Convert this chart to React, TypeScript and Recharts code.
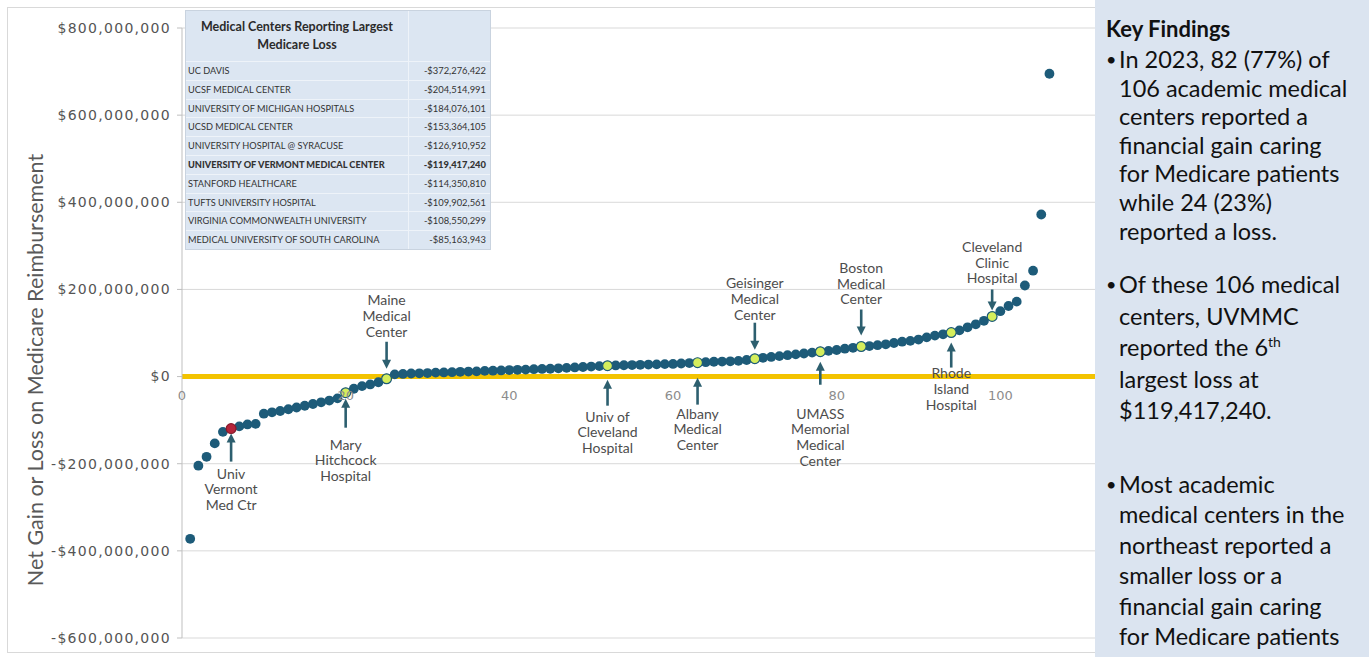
import React from "react";
import { ScatterChart, Scatter, XAxis, YAxis, CartesianGrid, ReferenceLine } from "recharts";

// net gain / loss per academic medical center, in $ millions, sorted ascending (rank 1..106)
const netGain = [
  -372.28, -204.51, -184.08, -153.36, -126.91, -119.42, -114.35, -109.9, -108.55, -85.16,
  -82, -79, -75, -71, -67, -63, -59, -55, -50, -37,
  -28, -22, -18, -13, -5, 5, 6, 7, 7.5, 8,
  9, 9.5, 10, 11, 11.5, 12, 13, 13.5, 14, 15,
  15.5, 16, 17, 17.5, 18, 19, 20, 21, 22, 23,
  24, 25, 25.5, 26, 26.5, 27, 27.5, 28, 28.5, 29,
  30, 31, 32, 33, 34, 34.5, 35, 36, 38, 41,
  43, 45, 47, 49, 51, 53, 55, 57, 59, 61,
  64, 66, 69, 70, 72, 74, 77, 80, 82, 85,
  90, 94, 97, 101, 106, 113, 120, 128, 138, 150,
  162, 172, 209, 243, 372, 695,
];

const yTicks = [-600, -400, -200, 0, 200, 400, 600, 800];
// 120 sits under the findings panel, so only the visible ticks are labelled
const xTicks = [0, 20, 40, 60, 80, 100];

const lossCenters = [
  "UC DAVIS",
  "UCSF MEDICAL CENTER",
  "UNIVERSITY OF MICHIGAN HOSPITALS",
  "UCSD MEDICAL CENTER",
  "UNIVERSITY HOSPITAL @ SYRACUSE",
  "UNIVERSITY OF VERMONT MEDICAL CENTER",
  "STANFORD HEALTHCARE",
  "TUFTS UNIVERSITY HOSPITAL",
  "VIRGINIA COMMONWEALTH UNIVERSITY",
  "MEDICAL UNIVERSITY OF SOUTH CAROLINA",
];
const lossAmounts = [
  "-$372,276,422",
  "-$204,514,991",
  "-$184,076,101",
  "-$153,364,105",
  "-$126,910,952",
  "-$119,417,240",
  "-$114,350,810",
  "-$109,902,561",
  "-$108,550,299",
  "-$85,163,943",
];

// highlighted centers: rank and label lines
const callouts = [
  { rank: 6, lines: ["Univ", "Vermont", "Med Ctr"] },
  { rank: 20, lines: ["Mary", "Hitchcock", "Hospital"] },
  { rank: 25, lines: ["Maine", "Medical", "Center"] },
  { rank: 52, lines: ["Univ of", "Cleveland", "Hospital"] },
  { rank: 63, lines: ["Albany", "Medical", "Center"] },
  { rank: 70, lines: ["Geisinger", "Medical", "Center"] },
  { rank: 78, lines: ["UMASS", "Memorial", "Medical", "Center"] },
  { rank: 83, lines: ["Boston", "Medical", "Center"] },
  { rank: 94, lines: ["Rhode", "Island", "Hospital"] },
  { rank: 99, lines: ["Cleveland", "Clinic", "Hospital"] },
];

const findings = [
  ["In 2023, 82 (77%) of", "106 academic medical", "centers reported a", "financial gain caring", "for Medicare patients", "while 24 (23%)", "reported a loss."],
  ["Of these 106 medical", "centers, UVMMC", "reported the 6|th", "largest loss at", "$119,417,240."],
  ["Most academic", "medical centers in the", "northeast reported a", "smaller loss or a", "financial gain caring", "for Medicare patients"],
];

// callout styling: arrow tip/tail and first label line offsets from the point (px)
const calloutStyle: Record<number, { tip: number; tail: number; label: number; red?: boolean }> = {
  6: { tip: 5, tail: 33, label: 45, red: true },
  20: { tip: 6, tail: 35, label: 52 },
  25: { tip: -10, tail: -37, label: -47 },
  52: { tip: 14, tail: 40, label: 51 },
  63: { tip: 15, tail: 42, label: 51 },
  70: { tip: -9, tail: -36, label: -44 },
  78: { tip: 10, tail: 33, label: 62 },
  83: { tip: -11, tail: -37, label: -47 },
  94: { tip: 10, tail: 35, label: 41 },
  99: { tip: -6, tail: -27, label: -38 },
};

// findings panel layout: centre of first line and line step for each bullet
const bulletLayout = [
  { top: 59, step: 28.6 },
  { top: 284, step: 31.5 },
  { top: 484, step: 30.4 },
];

const points = netGain.map((v, i) => ({ rank: i + 1, value: v }));
const calloutPoints = callouts.map((c) => ({ ...c, value: netGain[c.rank - 1] }));

const W = 1176;
const H = 657;
const X_AXIS_H = 19;
const M = { top: 28, right: 12, bottom: 0, left: 0 };
const Y_AXIS_W = 182;
const plotH = H - M.top - M.bottom - X_AXIS_H;
const zeroY = M.top + (800 / 1400) * plotH;

const DOT = "#1d5b79";
const HILITE = "#d5ee5c";
const ARROW = "#2d5f6f";
const LABEL = "#4d4d4d";

const fmtMoney = (v: number) => {
  const s = "$" + (Math.abs(v) * 1e6).toLocaleString("en-US");
  return v < 0 ? "-" + s : s;
};

const Dot = (props: any) => {
  const { cx, cy } = props;
  if (cx == null || cy == null) return null;
  return <circle cx={cx} cy={cy} r={4.9} fill={DOT} />;
};

const Callout = (props: any) => {
  const { cx, cy, payload } = props;
  if (cx == null || cy == null) return null;
  const st = calloutStyle[payload.rank];
  const up = st.tip > 0; // label below, arrow pointing up
  const tipY = cy + st.tip;
  const tailY = cy + st.tail;
  const head = up ? `${cx - 4.5},${tipY + 9} ${cx + 4.5},${tipY + 9} ${cx},${tipY}` : `${cx - 4.5},${tipY - 9} ${cx + 4.5},${tipY - 9} ${cx},${tipY}`;
  const n = payload.lines.length;
  const lh = 15.8;
  const firstY = up ? cy + st.label : cy + st.label - (n - 1) * lh;
  return (
    <g>
      <circle cx={cx} cy={cy} r={4.9} fill={st.red ? "#b5243a" : HILITE} stroke={st.red ? "#8a1a2a" : DOT} strokeWidth={1.2} />
      <line x1={cx} x2={cx} y1={up ? tipY + 7 : tipY - 7} y2={tailY} stroke={ARROW} strokeWidth={2.6} />
      <polygon points={head} fill={ARROW} />
      {payload.lines.map((t: string, i: number) => (
        <text key={i} x={cx} y={firstY + i * lh} dy="0.35em" textAnchor="middle" fontFamily="Lato" fontSize={14} fill={LABEL}>
          {t}
        </text>
      ))}
    </g>
  );
};

const XTick = (props: any) => {
  const { x, payload } = props;
  return (
    <text x={x} y={zeroY + 19} dy="0.35em" textAnchor="middle" fontFamily="DejaVu Sans" fontSize={13} fill="#8c8c8c">
      {payload.value}
    </text>
  );
};

const YTick = (props: any) => {
  const { x, y, payload } = props;
  return (
    <text x={x - 4} y={y} dy="0.35em" textAnchor="end" fontFamily="DejaVu Sans" fontSize={14} letterSpacing={1.3} fill="#555">
      {fmtMoney(payload.value)}
    </text>
  );
};

function LossTable() {
  const cell: React.CSSProperties = { padding: "0 2px", height: 17.8, lineHeight: "17.8px", borderTop: "1px solid #eef3f9", whiteSpace: "nowrap" };
  return (
    <div style={{ position: "absolute", left: 185, top: 10, width: 304, background: "#dce6f2", border: "1px solid #c9d3df", fontFamily: "Lato", color: "#333" }}>
      <div style={{ display: "flex", height: 50 }}>
        <div style={{ width: 222, borderRight: "1px solid #eef3f9", textAlign: "center", fontSize: 12.5, fontWeight: 700, lineHeight: "18px", paddingTop: 7, color: "#2b2b2b" }}>
          Medical Centers Reporting Largest
          <br />
          Medicare Loss
        </div>
        <div style={{ flex: 1 }} />
      </div>
      {lossCenters.map((name, i) => (
        <div key={name} style={{ display: "flex", fontSize: 9.2, fontWeight: i === 5 ? 900 : 400 }}>
          <div style={{ ...cell, width: 218, borderRight: "1px solid #eef3f9" }}>{name}</div>
          <div style={{ ...cell, flex: 1, textAlign: "right", paddingRight: 4, fontSize: 9.4 }}>{lossAmounts[i]}</div>
        </div>
      ))}
    </div>
  );
}

function FindingsPanel() {
  return (
    <div style={{ position: "absolute", left: 1095, top: 0, width: 274, height: 657, background: "#dbe4f0", fontFamily: "Lato", color: "#111" }}>
      <div style={{ position: "absolute", left: 11, top: 15, fontSize: 22, fontWeight: 700, whiteSpace: "nowrap" }}>Key Findings</div>
      {findings.map((lines, bi) => {
        const lay = bulletLayout[bi];
        return (
          <div key={bi}>
            <span style={{ position: "absolute", left: 11, top: lay.top - 13, fontSize: 18, lineHeight: "26px" }}>•</span>
            {lines.map((l, li) => {
              const [main, sup] = l.split("|");
              return (
                <div
                  key={li}
                  style={{ position: "absolute", left: 24, top: lay.top + li * lay.step - 13, height: 26, fontSize: 23.5, lineHeight: "26px", whiteSpace: "nowrap" }}
                >
                  {main}
                  {sup && <span style={{ fontSize: 14, position: "relative", top: -9 }}>{sup}</span>}
                </div>
              );
            })}
          </div>
        );
      })}
    </div>
  );
}

export default function App() {
  return (
    <div style={{ position: "fixed", left: 0, top: 0, width: 1369, height: 657, background: "#fff", overflow: "hidden" }}>
      <div style={{ position: "absolute", left: 7, top: 7, width: 1100, height: 644, border: "1px solid #d9d9d9" }} />
      <div style={{ position: "absolute", left: 0, top: 0 }}>
        <ScatterChart width={W} height={H} margin={M}>
          <CartesianGrid vertical={false} stroke="#d9d9d9" />
          <XAxis
            type="number"
            dataKey="rank"
            domain={[0, 120]}
            ticks={xTicks}
            height={X_AXIS_H}
            axisLine={false}
            tickLine={false}
            tick={<XTick />}
            interval={0}
          />
          <YAxis
            type="number"
            dataKey="value"
            domain={[-600, 800]}
            ticks={yTicks}
            width={Y_AXIS_W}
            axisLine={{ stroke: "#bfbfbf" }}
            tickLine={{ stroke: "#bfbfbf" }}
            tickSize={5}
            tick={<YTick />}
            interval={0}
          />
          <ReferenceLine y={0} stroke="#f3c300" strokeWidth={5} />
          <Scatter data={points} shape={<Dot />} isAnimationActive={false} />
          <Scatter data={calloutPoints} shape={<Callout />} isAnimationActive={false} />
        </ScatterChart>
      </div>
      <div
        style={{
          position: "absolute",
          left: 35 - 260,
          top: 370 - 15,
          width: 520,
          height: 30,
          lineHeight: "30px",
          textAlign: "center",
          transform: "rotate(-90deg)",
          fontFamily: "Lato",
          fontSize: 21.5,
          color: "#595959",
          whiteSpace: "nowrap",
        }}
      >
        Net Gain or Loss on Medicare Reimbursement
      </div>
      <LossTable />
      <FindingsPanel />
    </div>
  );
}
